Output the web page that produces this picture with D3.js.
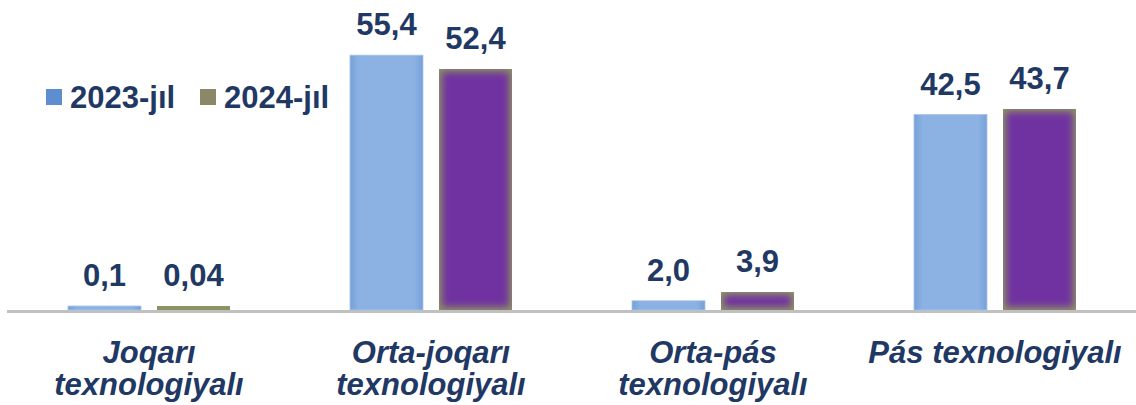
<!DOCTYPE html>
<html><head><meta charset="utf-8">
<script src="https://cdn.jsdelivr.net/npm/d3@7"></script>
<style>
html,body{margin:0;padding:0;background:#fff;}
svg{display:block;}
text{font-family:"Liberation Sans",Arial,sans-serif;font-weight:bold;fill:#1F3864;}
</style></head><body>
<svg id="chart" width="1136" height="405"></svg>
<script>
const categories = [["Joqarı","texnologiyalı"],["Orta-joqarı","texnologiyalı"],["Orta-pás","texnologiyalı"],["Pás texnologiyalı"]];
const seriesNames = ["2023-jıl","2024-jıl"];
const values2023 = [0.1, 55.4, 2.0, 42.5];
const values2024 = [0.04, 52.4, 3.9, 43.7];
const labels2023 = ["0,1","55,4","2,0","42,5"];
const labels2024 = ["0,04","52,4","3,9","43,7"];

const W = 1136, H = 405, base = 310;
const svg = d3.select("#chart");
const defs = svg.append("defs");
const g1 = defs.append("linearGradient").attr("id","blueGrad").attr("x1","0").attr("x2","1").attr("y1","0").attr("y2","0");
[[0,"#76A0D8"],[0.12,"#8BB2E2"],[0.88,"#8BB2E2"],[1,"#76A0D8"]].forEach(s=>g1.append("stop").attr("offset",s[0]).attr("stop-color",s[1]));
const f = defs.append("filter").attr("id","soft").attr("x","-20%").attr("y","-20%").attr("width","140%").attr("height","140%");
f.append("feMorphology").attr("operator","erode").attr("radius",3);
f.append("feGaussianBlur").attr("stdDeviation",3.5);

const x0 = d3.scaleBand().domain(d3.range(categories.length)).range([8, W]).padding(0);
const x1 = d3.scaleBand().domain(seriesNames).range([0, x0.bandwidth()]).paddingInner(0.18).paddingOuter(0.674);
const y = d3.scaleLinear().domain([0, 60]).range([base, base - 60*4.6]);

// axis line
svg.append("line").attr("x1",7).attr("x2",W).attr("y1",base+1.5).attr("y2",base+1.5)
  .attr("stroke","#C0C0C0").attr("stroke-width",3);

const data = categories.map((c,i)=>({i, v:[values2023[i], values2024[i]], l:[labels2023[i], labels2024[i]]}));
const FS = 31;

data.forEach(d=>{
  const gx = x0(d.i);
  // 2023
  const xa = gx + x1(seriesNames[0]), bw = x1.bandwidth();
  const ya = y(d.v[0]), ha = Math.max(y(0)-ya, 4);
  svg.append("rect").attr("x",xa).attr("y",base-ha).attr("width",bw).attr("height",ha)
    .attr("fill","url(#blueGrad)").attr("stroke","#A8C4EA").attr("stroke-width",0.8);
  svg.append("text").attr("x",xa+bw/2).attr("y",base-ha-20).attr("text-anchor","middle")
    .attr("font-size",FS).text(d.l[0]);
  // 2024
  const xb = gx + x1(seriesNames[1]);
  const yb = y(d.v[1]), hb = Math.max(y(0)-yb, 4);
  const cid = "clip"+d.i;
  defs.append("clipPath").attr("id",cid).append("rect").attr("x",xb).attr("y",base-hb).attr("width",bw).attr("height",hb);
  svg.append("rect").attr("x",xb).attr("y",base-hb).attr("width",bw).attr("height",hb).attr("fill","#8D9263");
  svg.append("g").attr("clip-path",`url(#${cid})`).append("rect")
    .attr("x",xb).attr("y",base-hb).attr("width",bw).attr("height",hb).attr("fill","#7030A0").attr("filter","url(#soft)");
  svg.append("text").attr("x",xb+bw/2).attr("y",base-hb-20).attr("text-anchor","middle")
    .attr("font-size",FS).text(d.l[1]);
  // category label
  const t = svg.append("text").attr("x",gx + x0.bandwidth()/2).attr("y",363).attr("text-anchor","middle")
    .attr("font-size",FS).attr("font-style","italic");
  categories[d.i].forEach((line,k)=>t.append("tspan").attr("x",gx + x0.bandwidth()/2).attr("dy",k?32:0).text(line));
});

// legend
const legColors = ["#5E8ED0","#8B8868"];
const legX = [46, 200];
seriesNames.forEach((s,k)=>{
  svg.append("rect").attr("x",legX[k]).attr("y",89).attr("width",16).attr("height",16).attr("fill",legColors[k]);
  svg.append("text").attr("x",legX[k]+24).attr("y",108).attr("font-size",FS).text(s);
});
</script>
</body></html>
